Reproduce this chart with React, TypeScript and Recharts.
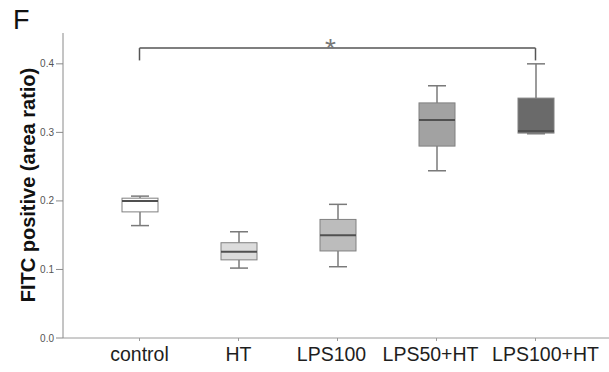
import {
  ComposedChart,
  Bar,
  XAxis,
  YAxis,
  ReferenceLine,
} from "recharts";

const groups = ["control", "HT", "LPS100", "LPS50+HT", "LPS100+HT"];
const lowWhisker = [0.164, 0.102, 0.104, 0.244, 0.298];
const q1 = [0.184, 0.114, 0.127, 0.28, 0.299];
const median = [0.2, 0.126, 0.15, 0.318, 0.302];
const q3 = [0.204, 0.139, 0.173, 0.343, 0.35];
const highWhisker = [0.207, 0.155, 0.195, 0.368, 0.4];
const yTicks = [0, 0.1, 0.2, 0.3, 0.4];

const bracketY = 0.423;
const bracketFoot = 0.405;

const boxFills = ["#ffffff", "#dcdcdc", "#bcbcbc", "#a2a2a2", "#6a6a6a"];
const labelShift = [0, 0, -6, -6, 10];
const font = '"Liberation Sans", Arial, sans-serif';

const data = groups.map((name, i) => ({
  name,
  min: lowWhisker[i],
  q1: q1[i],
  median: median[i],
  q3: q3[i],
  max: highWhisker[i],
}));

// draws one box from the bar's own geometry (bar spans 0..max)
const BoxShape = (props: any) => {
  const { x, y, width, height, payload, index } = props;
  const base = y + height;
  const px = (v: number) => base - (height * v) / payload.max;
  const cx = x + width / 2;
  const cap = width / 4;
  const line = "#7a7a7a";
  return (
    <g>
      <line x1={cx} x2={cx} y1={px(payload.max)} y2={px(payload.q3)} stroke={line} strokeWidth={1.5} />
      <line x1={cx} x2={cx} y1={px(payload.q1)} y2={px(payload.min)} stroke={line} strokeWidth={1.5} />
      <line x1={cx - cap} x2={cx + cap} y1={px(payload.max)} y2={px(payload.max)} stroke={line} strokeWidth={1.5} />
      <line x1={cx - cap} x2={cx + cap} y1={px(payload.min)} y2={px(payload.min)} stroke={line} strokeWidth={1.5} />
      <rect
        x={x}
        y={px(payload.q3)}
        width={width}
        height={px(payload.q1) - px(payload.q3)}
        fill={boxFills[index]}
        stroke="#808080"
        strokeWidth={1}
      />
      <line x1={x} x2={x + width} y1={px(payload.median)} y2={px(payload.median)} stroke="#505050" strokeWidth={2} />
    </g>
  );
};

const GroupTick = (props: any) => {
  const { x, y, payload, index } = props;
  return (
    <text
      x={x + (labelShift[index] || 0)}
      y={y + 18}
      textAnchor="middle"
      fontSize={19.5}
      fontFamily={font}
      fill="#1e1e1e"
    >
      {payload.value}
    </text>
  );
};

export default function App() {
  return (
    <div style={{ position: "absolute", left: 0, top: 0, width: 609, height: 372, background: "#fff" }}>
      <div style={{ position: "absolute", left: 13, top: 5, fontFamily: font, fontSize: 27, color: "#111" }}>F</div>
      <ComposedChart
        width={609}
        height={372}
        data={data}
        margin={{ top: 33, right: 0, bottom: 0, left: 0 }}
      >
        <XAxis
          dataKey="name"
          height={34}
          interval={0}
          padding={{ left: 27, right: 24 }}
          stroke="#9a9a9a"
          tickSize={3}
          tick={<GroupTick />}
        />
        <YAxis
          width={63}
          domain={[0, 0.445]}
          ticks={yTicks}
          tickFormatter={(v: number) => v.toFixed(1)}
          stroke="#8a8a8a"
          tickSize={7}
          tick={{ fontSize: 10, fill: "#555", fontFamily: font }}
          label={{
            content: () => (
              <text
                x={28}
                y={185}
                transform="rotate(-90, 28, 185)"
                textAnchor="middle"
                dominantBaseline="central"
                fontSize={20}
                fontWeight="bold"
                fontFamily={font}
                fill="#111"
              >
                FITC positive (area ratio)
              </text>
            ),
          }}
        />
        <Bar dataKey="max" barSize={36} shape={<BoxShape />} isAnimationActive={false} />
        <ReferenceLine
          segment={[
            { x: groups[0], y: bracketY },
            { x: groups[4], y: bracketY },
          ]}
          stroke="#555"
          strokeWidth={1.5}
          label={{ value: "*", position: "top", dx: -7, dy: 15, fontSize: 28, fill: "#777", fontFamily: font }}
        />
        <ReferenceLine
          segment={[
            { x: groups[0], y: bracketY },
            { x: groups[0], y: bracketFoot },
          ]}
          stroke="#555"
          strokeWidth={1.5}
        />
        <ReferenceLine
          segment={[
            { x: groups[4], y: bracketY },
            { x: groups[4], y: bracketFoot },
          ]}
          stroke="#555"
          strokeWidth={1.5}
        />
      </ComposedChart>
    </div>
  );
}
